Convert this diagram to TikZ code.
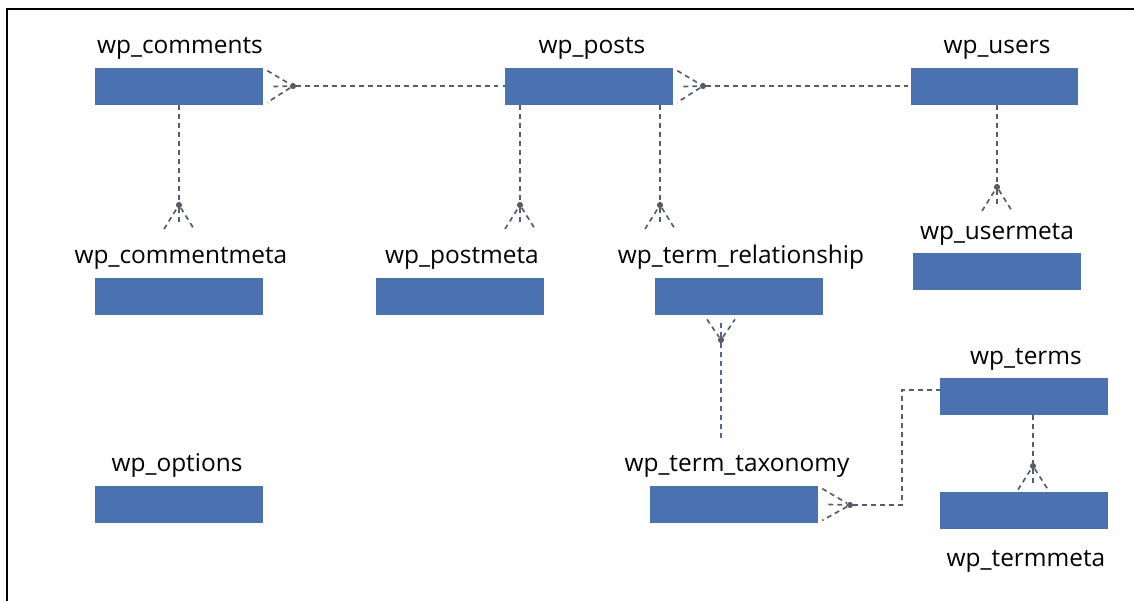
\documentclass[tikz,border=0pt]{standalone}
\usepackage{fontspec}
\setmainfont{Open Sans}
\usetikzlibrary{calc}
\definecolor{tblblue}{RGB}{74,114,176}
\definecolor{lnkgray}{RGB}{88,92,104}
\definecolor{lnkblue}{RGB}{80,100,150}

\begin{document}
\begin{tikzpicture}[x=0.02cm,y=-0.02cm,
  tbl/.style={fill=tblblue,minimum width=3.36cm,minimum height=0.74cm,inner sep=0},
  lbl/.style={font=\fontsize{13.9}{17}\selectfont,inner sep=0,anchor=base},
  lnk/.style={draw=lnkgray,line width=0.95pt,dash pattern=on 2.8pt off 2.3pt},
  knot/.style={fill=lnkgray,circle,inner sep=0,minimum size=3.5pt}]
  \useasboundingbox (0,0) rectangle (1134,600);
  \draw[line width=1.2pt] (7,610) -- (7,9) -- (1140,9);
  % tables
  \node[tbl] (cmt)  at (179,86.5)  {};
  \node[tbl] (pst)  at (589,86.5)  {};
  \node[tbl] (usr)  at (994.5,86.5) {};
  \node[tbl] (cmtm) at (179,296.5) {};
  \node[tbl] (pstm) at (460,296.5) {};
  \node[tbl] (trel) at (739,296.5) {};
  \node[tbl] (usrm) at (997,271.5) {};
  \node[tbl] (trm)  at (1024,396.5) {};
  \node[tbl] (ttax) at (734,504.5) {};
  \node[tbl] (trmm) at (1024,510.5) {};
  \node[tbl] (opt)  at (179,504.5) {};
  % table names
  \node[lbl] (cmtL)  at (180,53)  {wp\_comments};
  \node[lbl] (pstL)  at (592,53)  {wp\_posts};
  \node[lbl] (usrL)  at (997,53)  {wp\_users};
  \node[lbl] (cmtmL) at (181,263) {wp\_commentmeta};
  \node[lbl] (pstmL) at (462,263) {wp\_postmeta};
  \node[lbl] (trelL) at (741,263) {wp\_term\_relationship};
  \node[lbl] (usrmL) at (997,239) {wp\_usermeta};
  \node[lbl] (trmL)  at (1026,364) {wp\_terms};
  \node[lbl] (ttaxL) at (737,471) {wp\_term\_taxonomy};
  \node[lbl] (trmmL) at (1026,566) {wp\_termmeta};
  \node[lbl] (optL)  at (177,471) {wp\_options};
  % comments -> posts
  \node[knot] (k1) at (293,86) {};
  \draw[lnk] (k1) -- (pst.west |- k1);
  \draw[lnk] ($(cmt.north east)+(4,3)$) -- (k1) -- ($(cmt.south east)+(4,-3)$);
  \draw[lnk] ($(cmt.east)+(10,0)$) -- (k1);
  % posts -> users
  \node[knot] (k2) at (703,86) {};
  \draw[lnk] (k2) -- (usr.west |- k2);
  \draw[lnk] ($(pst.north east)+(4,3)$) -- (k2) -- ($(pst.south east)+(4,-3)$);
  \draw[lnk] ($(pst.east)+(10,0)$) -- (k2);
  % comments -> commentmeta
  \node[knot] (k3) at (179,205) {};
  \draw[lnk] (cmt.south) -- (k3);
  \draw[lnk] ($(k3)+(-15,24)$) -- (k3) -- ($(k3)+(15,24)$);
  \draw[lnk] (k3) -- ($(k3)+(0,18)$);
  % posts -> postmeta
  \node[knot] (k4) at (520,205) {};
  \draw[lnk] (pst.south -| k4) -- (k4);
  \draw[lnk] ($(k4)+(-15,24)$) -- (k4) -- ($(k4)+(15,24)$);
  \draw[lnk] (k4) -- ($(k4)+(0,18)$);
  % posts -> term_relationship
  \node[knot] (k5) at (660,205) {};
  \draw[lnk] (pst.south -| k5) -- (k5);
  \draw[lnk] ($(k5)+(-15,24)$) -- (k5) -- ($(k5)+(15,24)$);
  \draw[lnk] (k5) -- ($(k5)+(0,18)$);
  % users -> usermeta
  \node[knot] (k6) at (997,187) {};
  \draw[lnk] (usr.south -| k6) -- (k6);
  \draw[lnk] ($(k6)+(-15,24)$) -- (k6) -- ($(k6)+(15,24)$);
  \draw[lnk] (k6) -- ($(k6)+(0,18)$);
  % term_taxonomy -> term_relationship
  \node[knot] (k7) at (721,340) {};
  \draw[lnk] ($(trel.south -| k7)+(-14,4)$) -- (k7) -- ($(trel.south -| k7)+(14,4)$);
  \draw[lnk,draw=lnkblue] (k7) -- ($(trel.south -| k7)+(0,4)$);
  \draw[lnk,draw=lnkblue] (k7) -- (721,440);
  % term_taxonomy -> terms
  \node[knot] (k8) at (850,505) {};
  \draw[lnk] ($(ttax.north east)+(4,3)$) -- (k8) -- ($(ttax.south east)+(4,-3)$);
  \draw[lnk] ($(ttax.east)+(10,0)$) -- (k8);
  \draw[lnk] (k8) -- (902,505) -- (902,390) -- (trm.west |- 0,390);
  % terms -> termmeta
  \node[knot] (k9) at (1033,466) {};
  \draw[lnk] (trm.south -| k9) -- (k9);
  \draw[lnk] ($(trmm.north -| k9)+(-15,-2)$) -- (k9) -- ($(trmm.north -| k9)+(15,-2)$);
  \draw[lnk] (k9) -- ($(k9)+(0,18)$);
\end{tikzpicture}
\end{document}
